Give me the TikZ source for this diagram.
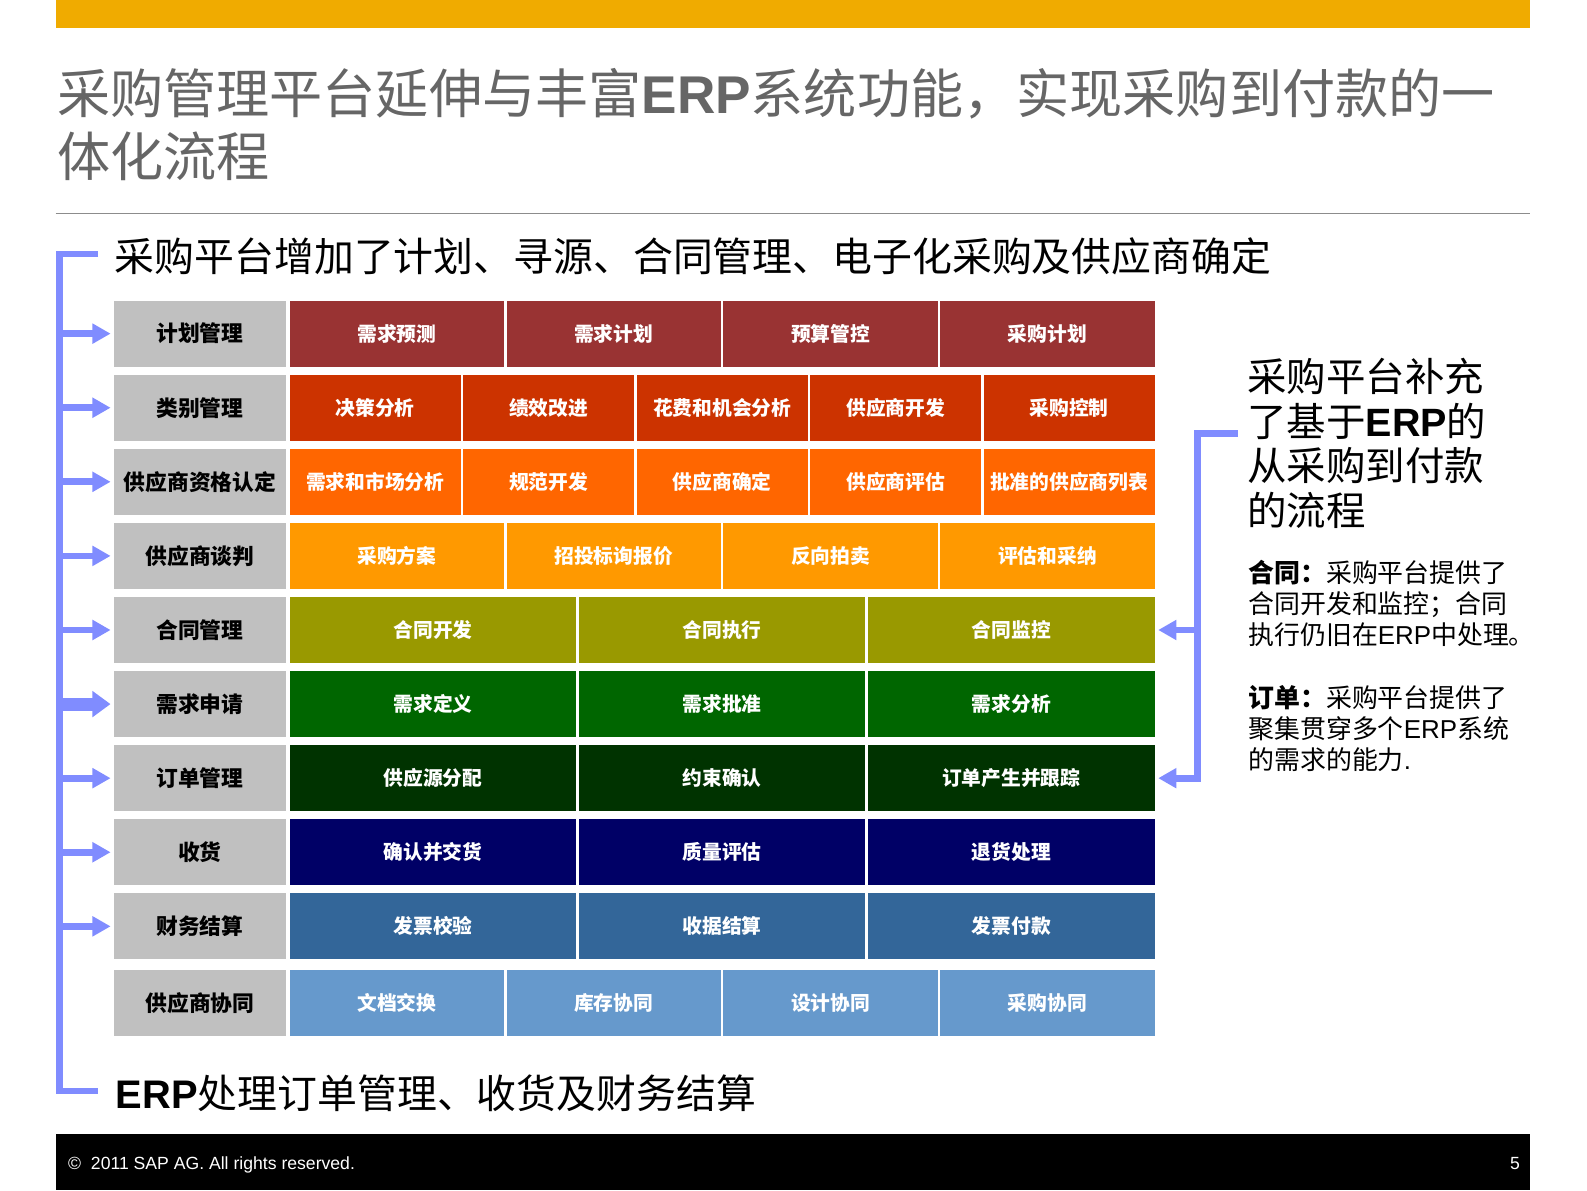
\documentclass[tikz,border=0pt]{standalone}
\usepackage{fontspec}
\setmainfont{Noto Sans CJK SC}
\newfontfamily\lat{Liberation Sans}
\usetikzlibrary{arrows.meta}
\definecolor{gold}{HTML}{F0AB00}
\definecolor{abl}{RGB}{128,140,255}
\definecolor{lgray}{HTML}{C0C0C0}
\definecolor{tgray}{HTML}{666666}
\definecolor{sgray}{HTML}{8C8C8C}
\definecolor{ra}{HTML}{993333}
\definecolor{rb}{HTML}{CC3300}
\definecolor{rc}{HTML}{FF6600}
\definecolor{rd}{HTML}{FF9900}
\definecolor{re}{HTML}{999900}
\definecolor{rf}{HTML}{006600}
\definecolor{rg}{HTML}{003300}
\definecolor{rh}{HTML}{000066}
\definecolor{ri}{HTML}{336699}
\definecolor{rj}{HTML}{6699CC}
\newcommand\tablerow[6]{%
  \pgfmathsetmacro\rowc{#2+32.65}%
  \pgfmathsetmacro\cw{857/#5}%
  \node[lbl] (L#1) at (197.6,\rowc) {#4};%
  \foreach \t [count=\i] in {#6}{%
    \node[cell, fill=#3, minimum width={(\cw-2.5)*0.5pt}] (c#1-\i) at ({285+(\i-0.5)*\cw},\rowc) {\t};%
  }%
}
\begin{document}
\begin{tikzpicture}[x=0.5pt,y=-0.5pt,
  lbl/.style={fill=lgray, minimum width=85pt, minimum height=32.65pt, inner sep=0pt,
    font=\bfseries\fontsize{10.75pt}{12pt}\selectfont},
  cell/.style={minimum height=32.65pt, inner sep=0pt, text=white,
    font=\bfseries\fontsize{9.75pt}{11pt}\selectfont},
  txt/.style={anchor=base west, inner sep=0pt},
  bline/.style={draw=abl, line width=3.3pt},
  barrow/.style={bline, -{Triangle[length=9pt,width=9.5pt]}},
  barrowthick/.style={draw=abl, line width=6.5pt, -{Triangle[length=9pt,width=12.5pt]}},
  rarrow/.style={draw=abl, line width=3.3pt, -{Triangle[length=9pt,width=9.5pt]}}]
\useasboundingbox (0,0) rectangle (1568,1176);
% top bar
\fill[gold] (55,0) rectangle (1512,28);
% title
\node[txt, text=tgray, font=\fontsize{26.25pt}{30pt}\selectfont] (title1) at (56,111.8)
  {采购管理平台延伸与丰富{\lat\bfseries ERP}系统功能，实现采购到付款的一};
\node[txt, text=tgray, font=\fontsize{26.25pt}{30pt}\selectfont] (title2) at (56,174.8) {体化流程};
\coordinate (sepL) at (55,211);
\coordinate (sepR) at (1512,211);
\draw[sgray, line width=0.8pt] (sepL) -- (sepR);
% subtitle and bottom text
\node[txt, font=\fontsize{19.7pt}{24pt}\selectfont] (sub) at (113,268)
  {采购平台增加了计划、寻源、合同管理、电子化采购及供应商确定};
\node[txt, font=\fontsize{19.7pt}{24pt}\selectfont] (bottom) at (114,1095)
  {{\lat\bfseries ERP}处理订单管理、收货及财务结算};
% table
\tablerow{1}{297}{ra}{计划管理}{4}{需求预测,需求计划,预算管控,采购计划}
\tablerow{2}{370.2}{rb}{类别管理}{5}{决策分析,绩效改进,花费和机会分析,供应商开发,采购控制}
\tablerow{3}{443.4}{rc}{供应商资格认定}{5}{需求和市场分析,规范开发,供应商确定,供应商评估,批准的供应商列表}
\tablerow{4}{516.6}{rd}{供应商谈判}{4}{采购方案,招投标询报价,反向拍卖,评估和采纳}
\tablerow{5}{589.8}{re}{合同管理}{3}{合同开发,合同执行,合同监控}
\tablerow{6}{663}{rf}{需求申请}{3}{需求定义,需求批准,需求分析}
\tablerow{7}{736.2}{rg}{订单管理}{3}{供应源分配,约束确认,订单产生并跟踪}
\tablerow{8}{809.4}{rh}{收货}{3}{确认并交货,质量评估,退货处理}
\tablerow{9}{882.6}{ri}{财务结算}{3}{发票校验,收据结算,发票付款}
\tablerow{10}{958.5}{rj}{供应商协同}{4}{文档交换,库存协同,设计协同,采购协同}
% left bracket
\coordinate (bkTR) at (97,251);
\coordinate (bkT) at (58.7,251);
\coordinate (bkB) at (58.7,1078);
\coordinate (bkBR) at (97,1078);
\draw[bline, line join=miter] (bkTR) -- (bkT) -- (bkB) -- (bkBR);
\foreach \k in {1,2,3,4,5,7,8,9}{
  \draw[barrow] (bkT |- L\k.west) -- ([xshift=-1.45pt]L\k.west);
}
\draw[barrowthick] (bkT |- L6.west) -- ([xshift=-1.5pt]L6.west);
% right bracket
\coordinate (rbT) at (1223,428);
\coordinate (rbV) at (1183,428);
\draw[rarrow, line join=miter] (rbT) -- (rbV) -- (rbV |- c7-3.east) -- ([xshift=1.6pt]c7-3.east);
\draw[rarrow] (rbV |- c5-3.east) -- ([xshift=1.6pt]c5-3.east);
% right texts
\node[txt, font=\fontsize{19.5pt}{23pt}\selectfont] (rt1) at (1232,386.8) {采购平台补充};
\node[txt, font=\fontsize{19.5pt}{23pt}\selectfont] (rt2) at (1232,430.8) {了基于{\lat\bfseries ERP}的};
\node[txt, font=\fontsize{19.5pt}{23pt}\selectfont] (rt3) at (1232,474.8) {从采购到付款};
\node[txt, font=\fontsize{19.5pt}{23pt}\selectfont] (rt4) at (1232,518.8) {的流程};
\node[txt, font=\fontsize{12.8pt}{15pt}\selectfont] (ht1) at (1233,576) {{\bfseries 合同：}采购平台提供了};
\node[txt, font=\fontsize{12.8pt}{15pt}\selectfont] (ht2) at (1233,606.5) {合同开发和监控；合同};
\node[txt, font=\fontsize{12.8pt}{15pt}\selectfont] (ht3) at (1233,637) {执行仍旧在{\lat ERP}中处理。};
\node[txt, font=\fontsize{12.8pt}{15pt}\selectfont] (dt1) at (1233,699.5) {{\bfseries 订单：}采购平台提供了};
\node[txt, font=\fontsize{12.8pt}{15pt}\selectfont] (dt2) at (1233,730) {聚集贯穿多个{\lat ERP}系统};
\node[txt, font=\fontsize{12.8pt}{15pt}\selectfont] (dt3) at (1233,760.5) {的需求的能力{\lat .}};
% footer
\fill[black] (55,1120) rectangle (1512,1176);
\node[txt, text=white, font=\lat\fontsize{8.7pt}{10pt}\selectfont] (copy) at (67,1155) {©\ \ 2011 SAP AG. All rights reserved.};
\node[anchor=base east, inner sep=0pt, text=white, font=\lat\fontsize{8.7pt}{10pt}\selectfont] (pnum) at (1502,1155) {5};
\end{tikzpicture}
\end{document}
